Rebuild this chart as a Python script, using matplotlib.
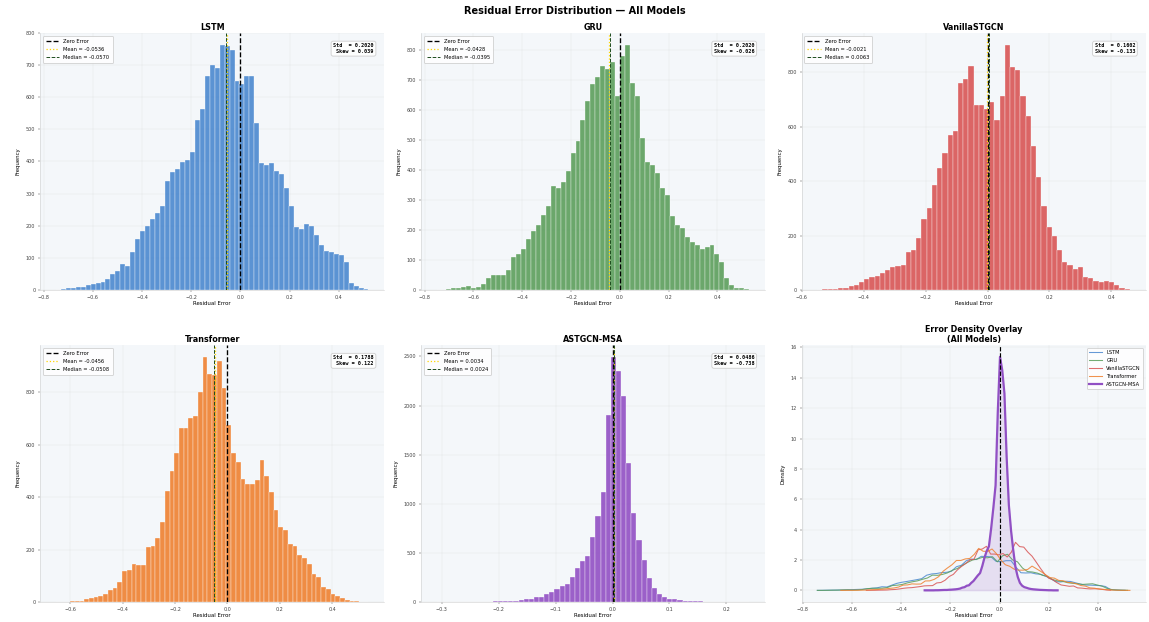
import numpy as np
import matplotlib
matplotlib.use("Agg")
import matplotlib.pyplot as plt

# ---- data (histogram counts per bin) ----
models = ["LSTM", "GRU", "VanillaSTGCN", "Transformer", "ASTGCN-MSA"]
colors = ["#4a88cf", "#5c9e5c", "#d95555", "#ef8130", "#9150c4"]

lstm_range = (-0.7503, 0.5202)
lstm_counts = [1, 2, 5, 6, 8, 10, 14, 18, 22, 26, 35, 48, 58, 82, 76, 118, 158, 182, 200, 220,
               240, 262, 340, 368, 378, 398, 405, 428, 530, 562, 665, 700, 690, 762, 760, 748,
               650, 640, 665, 665, 520, 395, 390, 395, 370, 360, 318, 260, 195, 190, 205, 200,
               170, 140, 120, 118, 112, 108, 88, 22, 12, 6, 2]

gru_range = (-0.7509, 0.5300)
gru_counts = [1, 1, 2, 5, 6, 10, 13, 8, 10, 20, 40, 48, 48, 50, 65, 110, 118, 135, 170, 195,
              215, 250, 280, 345, 340, 360, 395, 455, 495, 565, 630, 685, 710, 745, 735, 760,
              645, 780, 815, 690, 645, 505, 425, 415, 390, 340, 315, 245, 215, 205, 175, 160,
              150, 135, 143, 150, 120, 92, 40, 15, 8, 5, 3]

vanilla_range = (-0.55, 0.46)
vanilla_counts = [1, 2, 3, 5, 6, 8, 14, 18, 28, 40, 48, 52, 62, 72, 85, 88, 90, 140, 148, 190,
                  260, 300, 385, 450, 505, 570, 585, 760, 775, 825, 680, 680, 665, 690, 625, 715,
                  900, 820, 810, 715, 640, 530, 415, 310, 230, 200, 145, 102, 90, 77, 83, 47,
                  43, 34, 28, 31, 28, 18, 8, 3]

transformer_range = (-0.6543, 0.5383)
transformer_counts = [1, 1, 2, 3, 4, 6, 10, 15, 18, 25, 32, 45, 55, 75, 118, 122, 145, 140, 142,
                      210, 212, 245, 305, 425, 500, 570, 665, 665, 700, 710, 800, 933, 870, 865,
                      920, 815, 675, 570, 535, 470, 450, 450, 465, 540, 480, 420, 350, 285, 273,
                      222, 215, 178, 170, 146, 108, 95, 57, 50, 32, 25, 15, 8, 5, 3, 2, 1]

astgcn_range = (-0.309, 0.24)
astgcn_counts = [1, 1, 1, 1, 1, 2, 2, 3, 4, 5, 5, 7, 8, 10, 12, 15, 20, 30, 35, 50, 55, 80, 100,
                 130, 160, 185, 260, 350, 420, 470, 660, 880, 1120, 1900, 2490, 2350, 2100, 1420,
                 910, 635, 425, 245, 145, 80, 50, 35, 28, 20, 15, 12, 10, 8, 6, 5, 4, 3, 2, 2,
                 1, 1, 1]

# legend / annotation values
means = [-0.0536, -0.0428, -0.0021, -0.0456, 0.0034]
medians = [-0.0570, -0.0395, 0.0063, -0.0508, 0.0024]
stds = [0.2020, 0.2020, 0.1602, 0.1788, 0.0486]
skews = [0.039, -0.026, -0.133, 0.122, -0.738]

all_counts = [lstm_counts, gru_counts, vanilla_counts, transformer_counts, astgcn_counts]
all_ranges = [lstm_range, gru_range, vanilla_range, transformer_range, astgcn_range]

# ---- figure ----
W, H, DPI = 1149, 622, 64
fig, axes = plt.subplots(2, 3, figsize=(W / DPI, H / DPI), dpi=DPI)
fig.subplots_adjust(left=0.035, right=0.997, top=0.947, bottom=0.032, wspace=0.107, hspace=0.215)
fig.suptitle("Residual Error Distribution \u2014 All Models", fontsize=11, fontweight="bold", y=0.99)

face = "#f4f7fa"


def style_axis(ax):
    ax.set_facecolor(face)
    for s in ["top", "right"]:
        ax.spines[s].set_visible(False)
    for s in ["left", "bottom"]:
        ax.spines[s].set_color("#cccccc")
        ax.spines[s].set_linewidth(0.6)
    ax.tick_params(labelsize=5.5, length=2, width=0.5, colors="#444444")
    ax.grid(alpha=0.25, linewidth=0.5)
    ax.set_axisbelow(True)


densities = []
for i, name in enumerate(models):
    ax = axes.flat[i]
    counts = np.array(all_counts[i], dtype=float)
    lo, hi = all_ranges[i]
    edges = np.linspace(lo, hi, len(counts) + 1)
    widths = np.diff(edges)
    ax.bar(edges[:-1], counts, width=widths, align="edge", color=colors[i],
           edgecolor="white", linewidth=0.4, alpha=0.9)
    ax.axvline(0, color="black", linestyle="--", linewidth=1.5, label="Zero Error")
    ax.axvline(means[i], color="gold", linestyle=":", linewidth=1.4, label=f"Mean = {means[i]:.4f}")
    ax.axvline(medians[i], color="#1f4d1f", linestyle="--", linewidth=1.1,
               label=f"Median = {medians[i]:.4f}")
    style_axis(ax)
    ax.set_title(name, fontsize=9, fontweight="bold", pad=3)
    ax.set_xlabel("Residual Error", fontsize=6, labelpad=1)
    ax.set_ylabel("Frequency", fontsize=6, labelpad=6)
    ax.legend(loc="upper left", fontsize=5.8, framealpha=0.85, edgecolor="#cccccc",
              handlelength=2.6, borderpad=0.6, labelspacing=0.6)
    ax.text(0.97, 0.96, f"Std  = {stds[i]:.4f}\nSkew = {skews[i]:.3f}", transform=ax.transAxes,
            ha="right", va="top", fontsize=5.8, family="monospace", fontweight="bold",
            bbox=dict(boxstyle="round,pad=0.4", facecolor="white", edgecolor="#cccccc", alpha=0.9))

    centers = (edges[:-1] + edges[1:]) / 2
    densities.append((centers, counts / (counts.sum() * widths)))

# density overlay
ax = axes.flat[5]
for i, name in enumerate(models):
    x, d = densities[i]
    if name == "ASTGCN-MSA":
        ax.plot(x, d, color=colors[i], linewidth=2.5, label=name)
        ax.fill_between(x, d, color=colors[i], alpha=0.15)
    else:
        ax.plot(x, d, color=colors[i], linewidth=1.2, alpha=0.85, label=name)
ax.axvline(0, color="black", linestyle="--", linewidth=1.3)
style_axis(ax)
ax.set_title("Error Density Overlay\n(All Models)", fontsize=9, fontweight="bold", pad=3)
ax.set_xlabel("Residual Error", fontsize=6, labelpad=1)
ax.set_ylabel("Density", fontsize=6, labelpad=6)
ax.legend(loc="upper right", fontsize=5.8, framealpha=0.85, edgecolor="#cccccc",
          handlelength=2.6, labelspacing=0.6)

fig.savefig("out.png", dpi=DPI, facecolor="white")
